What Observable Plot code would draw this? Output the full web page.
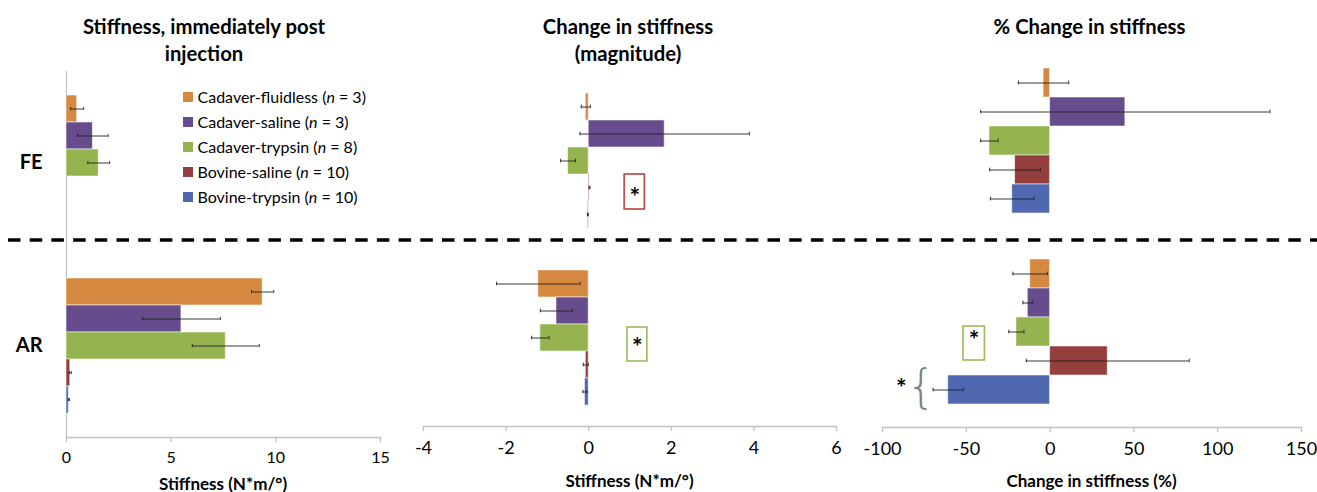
<!DOCTYPE html>
<html>
<head>
<meta charset="utf-8">
<script src="https://cdn.jsdelivr.net/npm/d3@7"></script>
<script src="https://cdn.jsdelivr.net/npm/@observablehq/plot@0.6"></script>
<style>
  body { margin: 0; background: #fff; }
  #wrap { position: relative; width: 1317px; height: 492px; overflow: hidden; background: #fff;
          font-family: Lato, "Open Sans", sans-serif; color: #000; }
  .title { position: absolute; font-weight: bold; font-size: 20.3px; line-height: 27px; text-align: center;
           white-space: nowrap; transform: translateX(-50%); }
  .axt { position: absolute; font-weight: bold; font-size: 17px; white-space: nowrap; transform: translate(-50%, -50%); }
  .plot { position: absolute; top: 0; }
  .legend { position: absolute; left: 183px; top: 0; }
  .lrow { position: absolute; left: 0; white-space: nowrap; font-size: 16px; line-height: 18px; }
  .sw { position: absolute; left: 0; width: 10px; height: 10px; }
  .lt { position: absolute; left: 14.5px; top: -9px; }
</style>
</head>
<body>
<div id="wrap"></div>
<script>
// ---------- data ----------
const series = ["Cadaver-fluidless", "Cadaver-saline", "Cadaver-trypsin", "Bovine-saline", "Bovine-trypsin"];
const seriesN = [3, 3, 8, 10, 10];
const colors = ["#D5883F", "#674C8D", "#95B34F", "#943F3D", "#5068B0"];
const categories = ["FE", "AR"];

const panelTitles = [["Stiffness, immediately post", "injection"], ["Change in stiffness", "(magnitude)"], ["% Change in stiffness"]];
const axisTitles = ["Stiffness (N*m/°)", "Stiffness (N*m/°)", "Change in stiffness (%)"];

// Panel 1: stiffness immediately post injection (N*m/°)
const stiffFE    = [0.51, 1.26, 1.54, null, null];
const stiffFEErr = [0.31, 0.73, 0.52, null, null];
const stiffAR    = [9.37, 5.49, 7.61, 0.18, 0.11];
const stiffARErr = [0.53, 1.86, 1.60, 0.05, 0.03];
const ticks1 = [0, 5, 10, 15];

// Panel 2: change in stiffness (magnitude, N*m/°)
const chgFE    = [-0.07, 1.84, -0.50, 0.02, -0.02];
const chgFEErr = [0.11, 2.05, 0.18, 0.01, 0.01];
const chgAR    = [-1.22, -0.78, -1.17, -0.07, -0.09];
const chgARErr = [1.01, 0.39, 0.21, 0.06, 0.05];
const ticks2 = [-4, -2, 0, 2, 4, 6];

// Panel 3: % change in stiffness
const pctFE    = [-3.9, 44.9, -36.2, -20.9, -22.6];
const pctFEErr = [15.0, 86.3, 5.2, 15.1, 13.0];
const pctAR    = [-11.9, -13.3, -20.1, 34.4, -60.8];
const pctARErr = [10.3, 2.9, 4.5, 48.6, 9.0];
const ticks3 = [-100, -50, 0, 50, 100, 150];

// significance annotations (data coordinates)
const boxes2 = [
  {cat: "FE", s: "Bovine-saline", x1: 0.87, x2: 1.36, color: "#B8443F", top: 0, bottom: -8, star: 1.115},
  {cat: "AR", s: "Cadaver-trypsin", x1: 0.94, x2: 1.42, color: "#9BBB59", top: 3, bottom: -10, star: 1.18}
];
const boxes3 = [
  {cat: "AR", s: "Cadaver-trypsin", x1: -51.7, x2: -38.9, color: "#9BBB59", top: 9, bottom: -14, star: -45.3}
];
const braces3 = [{cat: "AR", s: "Bovine-trypsin", x: -77, starX: -88.8}];

// ---------- helpers ----------
function rows(fe, feErr, ar, arErr) {
  const out = [];
  series.forEach((s, i) => { if (fe[i] != null) out.push({cat: "FE", s, v: fe[i], e: feErr[i]}); });
  series.forEach((s, i) => { if (ar[i] != null) out.push({cat: "AR", s, v: ar[i], e: arErr[i]}); });
  return out;
}

const wrap = document.getElementById("wrap");

function panel(o) {
  const data = rows(...o.values);
  const facetH = (o.height - o.mt - o.mb) / 2;
  const step = facetH / (5 + 2 * o.po);
  const capInset = step / 2 - 2;
  const marks = [];
  if (o.showY) marks.push(Plot.ruleX([0], {stroke: "#c2c2c2", strokeWidth: 1.3}));
  marks.push(Plot.barX(data, {x: "v", y: "s", fy: "cat", fill: "s", stroke: "#fff", strokeOpacity: 0.55, strokeWidth: 1}));
  marks.push(Plot.ruleY(data, {x1: d => d.v - d.e, x2: d => d.v + d.e, y: "s", fy: "cat", stroke: "#222", strokeWidth: 0.9}));
  marks.push(Plot.tickX(data, {x: d => d.v - d.e, y: "s", fy: "cat", stroke: "#222", strokeWidth: 0.9, insetTop: capInset, insetBottom: capInset}));
  marks.push(Plot.tickX(data, {x: d => d.v + d.e, y: "s", fy: "cat", stroke: "#222", strokeWidth: 0.9, insetTop: capInset, insetBottom: capInset}));
  (o.boxes || []).forEach(b => {
    marks.push(Plot.barX([b], {x1: "x1", x2: "x2", y: "s", fy: "cat", fill: "none", stroke: b.color, strokeWidth: 1.6, insetTop: b.top, insetBottom: b.bottom}));
    marks.push(Plot.text([b], {x: "star", y: "s", fy: "cat", text: () => "*", fontSize: 25, fontWeight: "bold", dy: 6 + (-b.bottom - b.top) / 2}));
  });
  (o.braces || []).forEach(b => {
    marks.push(Plot.text([b], {x: "x", y: "s", fy: "cat", text: () => "{", fontSize: 46, fontFamily: "DejaVu Sans", fontWeight: 200, fill: "#808080", dy: -3}));
    marks.push(Plot.text([b], {x: "starX", y: "s", fy: "cat", text: () => "*", fontSize: 25, fontWeight: "bold", dy: -1}));
  });
  marks.push(Plot.frame({anchor: "bottom", facetAnchor: "bottom", stroke: "#c2c2c2", strokeWidth: 1.3}));
  marks.push(Plot.axisX({ticks: o.ticks, tickSize: 5, tickPadding: o.tp, fontSize: o.fs, stroke: "#c2c2c2", strokeWidth: 1.3,
                         tickFormat: d => String(d), label: null}));
  if (o.showY) marks.push(Plot.axisFy({anchor: "left", tickSize: 0, tickPadding: 24, fontSize: 20, fontWeight: "bold", label: null}));

  const chart = Plot.plot({
    width: o.width, height: o.height,
    marginLeft: o.ml, marginRight: o.mr, marginTop: o.mt, marginBottom: o.mb,
    style: {fontFamily: "Lato, 'Open Sans', sans-serif", background: "transparent", color: "#000"},
    x: {domain: o.domain, axis: null},
    y: {domain: series, paddingInner: 0, paddingOuter: o.po, axis: null},
    fy: {domain: categories, padding: 0, axis: o.showY ? undefined : null},
    color: {domain: series, range: colors},
    marks
  });
  chart.classList.add("plot");
  chart.style.left = o.left + "px";
  wrap.appendChild(chart);
}

panel({values: [stiffFE, stiffFEErr, stiffAR, stiffARErr], domain: [0, 15], ticks: ticks1,
       left: 0, width: 410, height: 492, ml: 66, mr: 30, mt: 70, mb: 55, po: 0.777, fs: 16, tp: 9, showY: true});
panel({values: [chgFE, chgFEErr, chgAR, chgARErr], domain: [-4, 6], ticks: ticks2,
       left: 400, width: 450, height: 492, ml: 23, mr: 14, mt: 71, mb: 66, po: 0.739, fs: 18, tp: 10, showY: false, boxes: boxes2});
panel({values: [pctFE, pctFEErr, pctAR, pctARErr], domain: [-100, 150], ticks: ticks3,
       left: 850, width: 467, height: 492, ml: 32, mr: 16, mt: 44, mb: 65, po: 0.768, fs: 18, tp: 10, showY: false, boxes: boxes3, braces: braces3});

// ---------- titles ----------
const titleX = [204, 628, 1089.5];
panelTitles.forEach((lines, i) => {
  const d = document.createElement("div");
  d.className = "title";
  d.style.left = titleX[i] + "px";
  d.style.top = "12.5px";
  d.innerHTML = lines.join("<br>");
  wrap.appendChild(d);
});
const axisX = [223, 629.5, 1091.5];
const axisY = [483, 480, 480];
axisTitles.forEach((t, i) => {
  const d = document.createElement("div");
  d.className = "axt";
  d.style.left = axisX[i] + "px";
  d.style.top = axisY[i] + "px";
  d.textContent = t;
  wrap.appendChild(d);
});

// ---------- legend ----------
const legend = document.createElement("div");
legend.className = "legend";
series.forEach((s, i) => {
  const r = document.createElement("div");
  r.className = "lrow";
  r.style.top = (97.3 + 25 * i) + "px";
  r.innerHTML = `<div class="sw" style="top:-5px;background:${colors[i]}"></div><div class="lt">${s} (<i>n</i> = ${seriesN[i]})</div>`;
  legend.appendChild(r);
});
wrap.appendChild(legend);

// ---------- dashed separator ----------
const ns = "http://www.w3.org/2000/svg";
const sep = document.createElementNS(ns, "svg");
sep.setAttribute("width", 1317); sep.setAttribute("height", 8);
sep.style.position = "absolute"; sep.style.left = "0px"; sep.style.top = "235.5px";
const ln = document.createElementNS(ns, "line");
ln.setAttribute("x1", 8); ln.setAttribute("x2", 1317); ln.setAttribute("y1", 4); ln.setAttribute("y2", 4);
ln.setAttribute("stroke", "#000"); ln.setAttribute("stroke-width", 3.3); ln.setAttribute("stroke-dasharray", "12.5 9.2");
sep.appendChild(ln);
wrap.appendChild(sep);
</script>
</body>
</html>
